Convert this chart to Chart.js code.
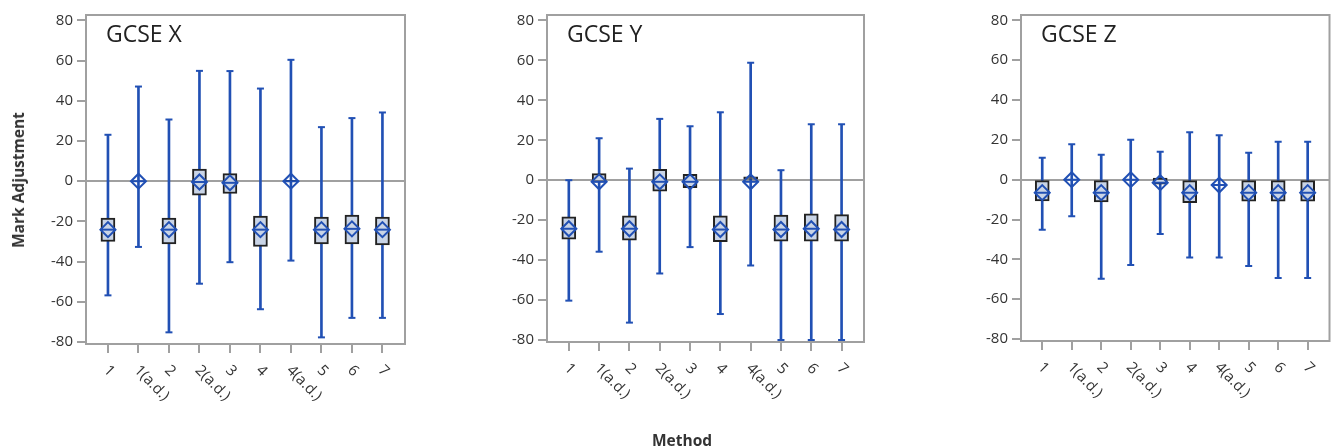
<!DOCTYPE html>
<html>
<head>
<meta charset="utf-8">
<script src="https://cdn.jsdelivr.net/npm/chart.js@4.4.1/dist/chart.umd.min.js"></script>
<style>
body { margin: 0; background: #fff; font-family: "Open Sans", sans-serif; }
#wrap { position: relative; width: 1339px; height: 448px; overflow: hidden; }
canvas { position: absolute; top: 0; }
.axis-title { position: absolute; font-weight: bold; font-size: 15.5px; color: #333; white-space: nowrap; }
#y-title { left: 18px; top: 180px; transform: translate(-50%, -50%) rotate(-90deg); }
#x-title { left: 682px; top: 440px; transform: translate(-50%, -50%); }
</style>
</head>
<body>
<div id="wrap">
  <canvas id="chart-x" width="420" height="448" style="left:0px"></canvas>
  <canvas id="chart-y" width="440" height="448" style="left:440px"></canvas>
  <canvas id="chart-z" width="439" height="448" style="left:900px"></canvas>
  <div class="axis-title" id="y-title">Mark Adjustment</div>
  <div class="axis-title" id="x-title">Method</div>
</div>
<script>
// Categories
const methods = ['1', '1(a.d.)', '2', '2(a.d.)', '3', '4', '4(a.d.)', '5', '6', '7'];

// GCSE X
const xLow = [-56.8, -32.7, -75.2, -51.0, -40.3, -63.7, -39.5, -77.7, -68.0, -68.0];
const xHigh = [23.1, 47.1, 30.7, 54.9, 54.8, 46.1, 60.4, 26.9, 31.4, 34.2];
const xBoxLow = [-30.0, null, -31.2, -7.0, -6.1, -32.5, -0.4, -31.2, -31.2, -31.7];
const xBoxHigh = [-18.3, null, -18.3, 6.0, 3.8, -17.4, 0.4, -17.8, -16.9, -17.8];
const xMean = [-24.1, 0, -24.1, -0.4, -0.8, -24.1, 0, -24.1, -23.7, -24.1];

// GCSE Y
const yLow = [-60.3, -35.8, -71.3, -46.7, -33.5, -67.0, -42.7, -80.0, -80.0, -80.0];
const yHigh = [0, 21.0, 5.8, 30.7, 27.0, 34.0, 58.8, 5.0, 28.0, 28.0];
const yBoxLow = [-29.5, -1.0, -30.0, -5.5, -3.7, -30.8, 0, -30.5, -30.5, -30.5];
const yBoxHigh = [-18.3, 3.3, -17.8, 5.5, 3.0, -17.8, 1.7, -17.5, -16.8, -17.2];
const yMean = [-24.3, -0.8, -24.3, -0.8, -0.8, -24.7, -0.8, -24.7, -24.3, -24.7];

// GCSE Z
const zLow = [-25.1, -18.3, -49.8, -42.8, -27.3, -39.1, -39.1, -43.4, -49.4, -49.4];
const zHigh = [11.0, 17.8, 12.5, 20.0, 14.0, 23.8, 22.3, 13.5, 19.0, 19.0];
const zBoxLow = [-10.6, null, -11.1, null, -2.3, -11.6, null, -10.8, -10.8, -10.8];
const zBoxHigh = [0, null, 0, null, 0.8, 0, null, 0, 0, 0];
const zMean = [-6.5, 0, -6.5, 0, -1.5, -6.5, -2.7, -6.5, -6.5, -6.5];

const BLUE = '#2150b4';
const BOX_FILL = '#c9d4e6';
const GRID = '#a0a0a0';
const FONT = '"Open Sans", sans-serif';

// frame, panel title and rotated method labels
const panelDecor = {
  id: 'panelDecor',
  afterDraw(chart) {
    const ctx = chart.ctx;
    const area = chart.chartArea;
    const xs = chart.scales.x;
    ctx.save();
    ctx.strokeStyle = GRID;
    ctx.lineWidth = 2;
    ctx.strokeRect(area.left, area.top, area.right - area.left, area.bottom - area.top);

    ctx.fillStyle = '#222';
    ctx.font = '23px ' + FONT;
    ctx.textAlign = 'left';
    ctx.textBaseline = 'alphabetic';
    ctx.fillText(chart.options.plugins.panelDecor.title, area.left + 20, 42);

    ctx.fillStyle = '#333';
    ctx.font = '15px ' + FONT;
    ctx.textBaseline = 'middle';
    methods.forEach((m, i) => {
      const px = xs.getPixelForValue(i);
      ctx.save();
      ctx.translate(px - 2, area.bottom + 24);
      ctx.rotate(Math.PI / 4);
      ctx.fillText(m, 0, 0);
      ctx.restore();
    });
    ctx.restore();
  }
};

function buildChart(id, title, low, high, boxLow, boxHigh, mean, box) {
  const whiskers = methods.map((m, i) => ({ x: i, y: [low[i], high[i]] }));
  const caps = [];
  methods.forEach((m, i) => {
    caps.push({ x: i, y: low[i] }, { x: i, y: high[i] });
  });
  const boxes = [];
  methods.forEach((m, i) => {
    if (boxLow[i] !== null) boxes.push({ x: i, y: [boxLow[i], boxHigh[i]] });
  });
  const means = mean.map((v, i) => ({ x: i, y: v }));

  return new Chart(document.getElementById(id), {
    type: 'bar',
    data: {
      datasets: [
        { type: 'bar', data: whiskers, backgroundColor: BLUE, barThickness: 2, grouped: false, order: 5 },
        { type: 'scatter', data: caps, pointStyle: 'line', pointRadius: 3.5, borderColor: BLUE, borderWidth: 2, order: 4 },
        { type: 'bar', data: boxes, backgroundColor: BOX_FILL, borderColor: '#222', borderWidth: 2,
          borderSkipped: false, barThickness: 14, grouped: false, order: 3 },
        { type: 'scatter', data: means, pointStyle: 'line', pointRadius: 7.5, borderColor: BLUE, borderWidth: 2, order: 2 },
        { type: 'scatter', data: means, pointStyle: 'rectRot', pointRadius: 7.5,
          backgroundColor: 'rgba(0,0,0,0)', borderColor: BLUE, borderWidth: 2, order: 1 }
      ]
    },
    options: {
      responsive: false,
      animation: false,
      events: [],
      layout: { padding: { top: 15, right: box.padRight, bottom: 0, left: 0 } },
      plugins: {
        legend: { display: false },
        tooltip: { enabled: false },
        panelDecor: { title: title }
      },
      scales: {
        x: {
          type: 'linear',
          offset: false,
          min: -0.72,
          max: 9.74,
          afterFit: s => { s.height = box.xHeight; },
          ticks: { stepSize: 1, includeBounds: false, display: false },
          grid: { offset: false, drawOnChartArea: false, tickLength: 9, tickColor: GRID, lineWidth: 2 },
          border: { display: false }
        },
        y: {
          min: -81,
          max: 82.7,
          afterFit: s => { s.width = box.yWidth; },
          ticks: { stepSize: 20, includeBounds: false, padding: 4, color: '#333', font: { family: FONT, size: 15 } },
          grid: {
            color: c => (c.tick && c.tick.value === 0 ? GRID : 'rgba(0,0,0,0)'),
            lineWidth: 2,
            tickColor: GRID,
            tickLength: 9
          },
          border: { display: false }
        }
      }
    },
    plugins: [panelDecor]
  });
}

buildChart('chart-x', 'GCSE X', xLow, xHigh, xBoxLow, xBoxHigh, xMean, { yWidth: 86, xHeight: 104, padRight: 15 });
buildChart('chart-y', 'GCSE Y', yLow, yHigh, yBoxLow, yBoxHigh, yMean, { yWidth: 107, xHeight: 106, padRight: 16 });
buildChart('chart-z', 'GCSE Z', zLow, zHigh, zBoxLow, zBoxHigh, zMean, { yWidth: 121, xHeight: 107, padRight: 3 });
</script>
</body>
</html>
